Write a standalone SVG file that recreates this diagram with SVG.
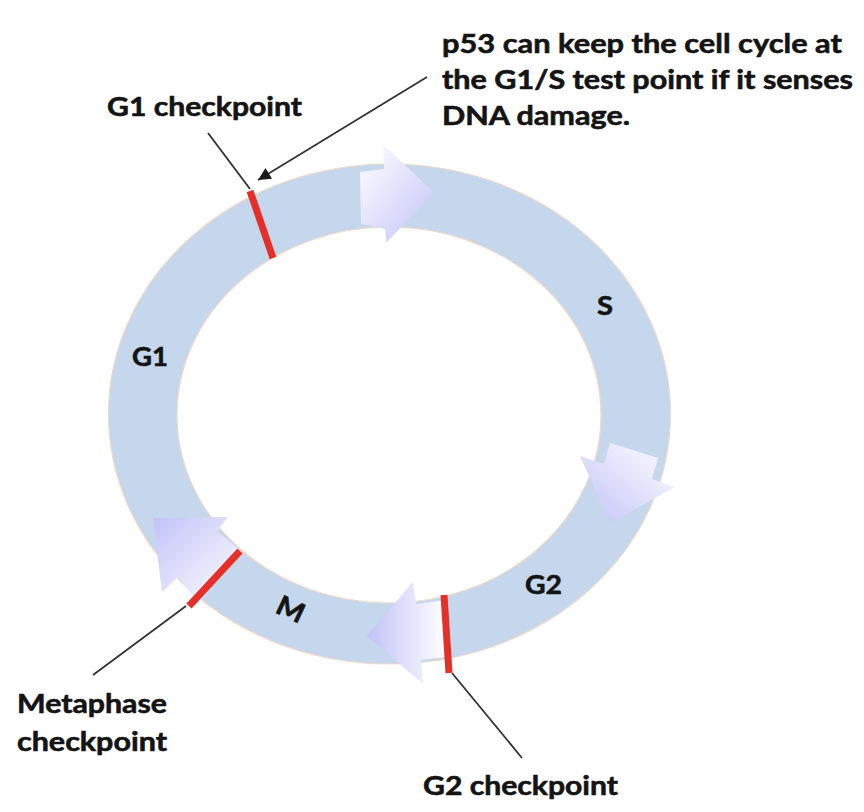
<svg xmlns="http://www.w3.org/2000/svg" width="864" height="812" viewBox="0 0 864 812">
<style>
  .t { font-family: Lato, "Liberation Sans", sans-serif; font-weight: bold; font-size: 27px; fill: #141414; stroke: #141414; stroke-width: 0.6; }
  .lead { stroke: #333333; stroke-width: 1.8; fill: none; }
  .chk { stroke: #e5302a; stroke-width: 7; stroke-linecap: butt; }
  .arr { stroke: none; }
</style>
<defs>
  <linearGradient id="g1" x1="0" y1="0" x2="1" y2="1">
    <stop offset="0" stop-color="#ffffff"/><stop offset="1" stop-color="#c2c2f8"/>
  </linearGradient>
  <linearGradient id="g2" x1="1" y1="0" x2="0" y2="1">
    <stop offset="0" stop-color="#ffffff"/><stop offset="1" stop-color="#c2c2f8"/>
  </linearGradient>
  <linearGradient id="g3" x1="1" y1="0.5" x2="0" y2="0.5">
    <stop offset="0" stop-color="#ffffff"/><stop offset="1" stop-color="#c2c2f8"/>
  </linearGradient>
  <linearGradient id="g4" x1="1" y1="1" x2="0" y2="0">
    <stop offset="0" stop-color="#ffffff"/><stop offset="1" stop-color="#c2c2f8"/>
  </linearGradient>
  <marker id="ah" viewBox="0 0 10 10" refX="10" refY="5" markerWidth="8" markerHeight="7" markerUnits="strokeWidth" orient="auto">
    <path d="M0,0 L10,5 L0,10 z" fill="#1a1a1a"/>
  </marker>
</defs>

<g id="cycle-ring">
  <path fill="#c4d7ec" stroke="#f0d8c4" stroke-width="1.2" fill-rule="evenodd"
        d="M108.5,414 A281,250 0 1,0 670.5,414 A281,250 0 1,0 108.5,414 Z M177,415 A212,188 0 1,1 601,415 A212,188 0 1,1 177,415 Z"/>
</g>

<g id="phase-arrows">
  <polygon id="arrow-g1-s" class="arr" fill="url(#g1)" points="360,172 384,169 383,145 434,192 386,243 385,229 361,224"/>
  <polygon id="arrow-s-g2" class="arr" fill="url(#g2)" points="610,443 658,458 652,479 675,487 610,523 580,456 604,464"/>
  <polygon id="arrow-g2-m" class="arr" fill="url(#g3)" points="367,636 413,582 416,604 445,600 447,657 421,660 423,684"/>
  <polygon id="arrow-m-g1" class="arr" fill="url(#g4)" points="153,518 228,517 217,531 243,553 198,603 178,577 162,592"/>
</g>

<g id="connectors">
  <line class="lead" x1="208" y1="133" x2="250" y2="189"/>
  <line class="lead" x1="427" y1="77" x2="258" y2="180" marker-end="url(#ah)"/>
  <line class="lead" x1="186" y1="606" x2="93" y2="675"/>
  <line class="lead" x1="452" y1="673" x2="522" y2="758"/>
</g>

<g id="checkpoints">
  <line id="g1-checkpoint-bar" class="chk" x1="250" y1="191" x2="273" y2="258"/>
  <line id="metaphase-checkpoint-bar" class="chk" x1="240" y1="551" x2="189" y2="606"/>
  <line id="g2-checkpoint-bar" class="chk" x1="444" y1="595" x2="449" y2="673"/>
</g>

<g id="phase-labels">
  <text class="t" x="132" y="366" textLength="36" lengthAdjust="spacingAndGlyphs">G1</text>
  <text class="t" x="597" y="315" textLength="16" lengthAdjust="spacingAndGlyphs">S</text>
  <text class="t" x="525" y="594" textLength="37" lengthAdjust="spacingAndGlyphs">G2</text>
  <text class="t" x="0" y="0" transform="translate(274,612) rotate(25)" textLength="28" lengthAdjust="spacingAndGlyphs">M</text>
</g>

<g id="g1-checkpoint-label">
  <text class="t" x="107" y="116" textLength="195" lengthAdjust="spacingAndGlyphs">G1 checkpoint</text>
</g>
<g id="metaphase-checkpoint-label">
  <text class="t" x="17" y="713" textLength="150" lengthAdjust="spacingAndGlyphs">Metaphase</text>
  <text class="t" x="17" y="751" textLength="150" lengthAdjust="spacingAndGlyphs">checkpoint</text>
</g>
<g id="g2-checkpoint-label">
  <text class="t" x="423" y="795" textLength="195" lengthAdjust="spacingAndGlyphs">G2 checkpoint</text>
</g>
<g id="p53-note">
  <text class="t" x="442" y="53" textLength="400" lengthAdjust="spacingAndGlyphs">p53 can keep the cell cycle at</text>
  <text class="t" x="442" y="89" textLength="411" lengthAdjust="spacingAndGlyphs">the G1/S test point if it senses</text>
  <text class="t" x="442" y="125" textLength="188" lengthAdjust="spacingAndGlyphs">DNA damage.</text>
</g>
</svg>
